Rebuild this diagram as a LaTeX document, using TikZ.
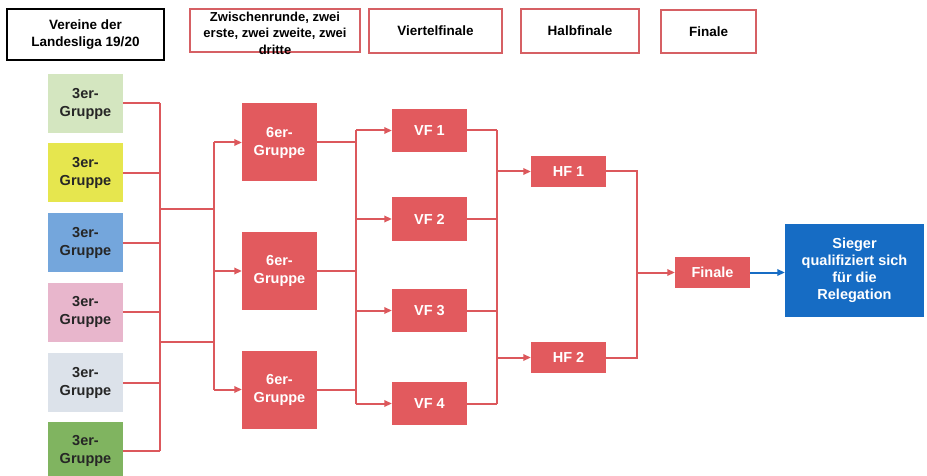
\documentclass[tikz,border=0pt]{standalone}
\usepackage{fontspec}
\setmainfont{Liberation Sans}
\usetikzlibrary{arrows.meta}

\definecolor{boxred}{RGB}{226,90,94}
\definecolor{linered}{RGB}{220,88,92}
\definecolor{hdrred}{RGB}{214,96,100}
\definecolor{siegblue}{RGB}{22,108,196}
\definecolor{grpA}{RGB}{212,230,192}
\definecolor{grpB}{RGB}{230,230,78}
\definecolor{grpC}{RGB}{116,166,220}
\definecolor{grpD}{RGB}{232,182,204}
\definecolor{grpE}{RGB}{220,226,234}
\definecolor{grpF}{RGB}{128,180,96}

\tikzset{
  box/.style={minimum width=75pt, inner sep=1pt, align=center,
    font=\fontsize{14.5}{18}\selectfont\bfseries},
  grp/.style={box, minimum height=59pt, text=black!85},
  redbox/.style={box, fill=boxred, text=white},
  hdr/.style={draw=hdrred, line width=1.5pt, fill=white, inner sep=0pt,
    align=center, font=\fontsize{13.5}{16.5}\selectfont\bfseries},
  link/.style={draw=linered, line width=2pt},
  arr/.style={link, -{Triangle[length=7.5pt,width=6.5pt]}},
}

\begin{document}
\begin{tikzpicture}[x=1pt, y=-1pt]
\useasboundingbox (0,0) rectangle (927,476);
\fill[white] (0,0) rectangle (927,476);

% column heads
\node[hdr, draw=black, line width=2pt, minimum width=157pt, minimum height=51pt]
  (ver) at (85.5,34.5) {Vereine der\\Landesliga 19/20};
\node[hdr, minimum width=170pt, minimum height=43pt] (zw) at (275,30.5) {};
\node[align=center, inner sep=0pt, font=\fontsize{13}{16.5}\selectfont\bfseries]
  (zwtxt) at (275,33) {Zwischenrunde, zwei\\erste, zwei zweite, zwei\\dritte};
\node[hdr, minimum width=133pt, minimum height=44pt] (vfh) at (435.5,31) {Viertelfinale};
\node[hdr, minimum width=118pt, minimum height=44pt] (hfh) at (580,31) {Halbfinale};
\node[hdr, minimum width=95pt, minimum height=43pt] (fih) at (708.5,31.5) {Finale};

% 3er groups
\foreach \i/\y/\c in {1/103.5/grpA, 2/173/grpB, 3/242.5/grpC,
                      4/312/grpD, 5/382.5/grpE, 6/451/grpF}
  \node[grp, fill=\c] (g\i) at (85.5,\y) {3er-\\Gruppe};

% 6er groups
\foreach \i/\y in {1/142.5, 2/271, 3/389.5}
  \node[redbox, minimum height=78pt] (s\i) at (279.5,\y) {6er-\\Gruppe};

% quarter finals
\foreach \i/\y in {1/130.5, 2/219, 3/310.5, 4/403.5}
  \node[redbox, minimum height=43pt] (q\i) at (429.5,\y) {VF \i};

% semi finals
\node[redbox, minimum height=31pt] (h1) at (568.5,171.5) {HF 1};
\node[redbox, minimum height=31pt] (h2) at (568.5,357.5) {HF 2};

\node[redbox, minimum height=31pt] (fin) at (712.5,272.5) {Finale};
\node[box, fill=siegblue, text=white, minimum width=139pt, minimum height=93pt,
  font=\fontsize{14.5}{17}\selectfont\bfseries]
  (sieg) at (854.5,270.5) {Sieger\\qualifiziert sich\\f\"ur die\\Relegation};

% bus lines
\coordinate (ba) at (160,0);
\coordinate (bb) at (214,0);
\coordinate (ja) at (160,209);
\coordinate (jb) at (160,342);
\coordinate (k) at (356,0);
\coordinate (m) at (497,0);
\coordinate (fj) at (637,272.5);

\foreach \i in {1,...,6}
  \draw[link] (g\i.east) -- (g\i.east -| ba);
\draw[link] (g1.east -| ba) -- (g6.east -| ba);
\draw[link] (ja) -- (ja -| bb);
\draw[link] (jb) -- (jb -| bb);
\draw[link] (s1.west -| bb) -- (s3.west -| bb);
\foreach \i in {1,2,3}
  \draw[arr] (s\i.west -| bb) -- (s\i.west);

\foreach \i in {1,2,3}
  \draw[link] (s\i.east) -- (s\i.east -| k);
\draw[link] (q1.west -| k) -- (q4.west -| k);
\foreach \i in {1,...,4}
  \draw[arr] (q\i.west -| k) -- (q\i.west);

\foreach \i in {1,...,4}
  \draw[link] (q\i.east) -- (q\i.east -| m);
\draw[link] (q1.east -| m) -- (q4.east -| m);
\draw[arr] (h1.west -| m) -- (h1.west);
\draw[arr] (h2.west -| m) -- (h2.west);

\draw[link] (h1.east) -| (fj);
\draw[link] (h2.east) -| (fj);
\draw[arr] (fj) -- (fin.west);
\draw[arr, draw=siegblue, fill=siegblue] (fin.east) -- (sieg.west |- fin.east);
\end{tikzpicture}
\end{document}
